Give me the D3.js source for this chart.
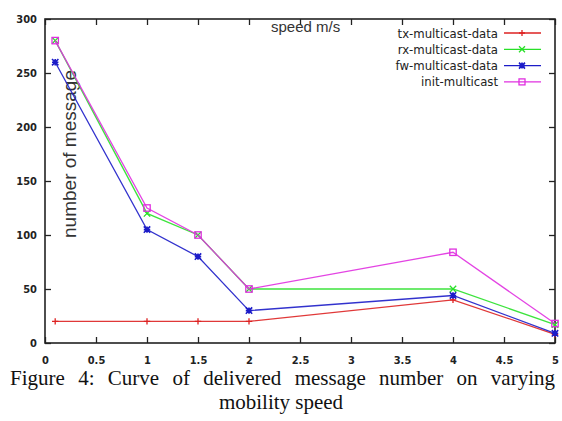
<!DOCTYPE html>
<html>
<head>
<meta charset="utf-8">
<script src="https://cdn.jsdelivr.net/npm/d3@7"></script>
<style>
  html, body { margin: 0; padding: 0; background: #fff; }
  svg { display: block; }
</style>
</head>
<body>
<svg id="chart" width="562" height="421"></svg>
<script>
// Mobility speed (m/s) at which each run was measured
const speeds = [0.1, 1, 1.5, 2, 4, 5];

// Delivered message counts per message type
const txMulticast   = [20, 20, 20, 20, 40, 8];
const rxMulticast   = [280, 120, 100, 50, 50, 17];
const fwMulticast   = [260, 105, 80, 30, 44, 9];
const initMulticast = [280, 125, 100, 50, 84, 18];

const seriesNames = ["tx-multicast-data", "rx-multicast-data", "fw-multicast-data", "init-multicast"];
const seriesValues = [txMulticast, rxMulticast, fwMulticast, initMulticast];
const seriesColors = ["#dd2222", "#28e028", "#1c1cc8", "#e030e0"];
const seriesMarkers = ["plus", "cross", "star", "square"];

const xTicks = [0, 0.5, 1, 1.5, 2, 2.5, 3, 3.5, 4, 4.5, 5];
const yTicks = [0, 50, 100, 150, 200, 250, 300];

const svg = d3.select("#chart");
const plot = { left: 45, right: 555, top: 19, bottom: 343 };

const x = d3.scaleLinear().domain([0, 5]).range([plot.left, plot.right]);
const y = d3.scaleLinear().domain([0, 300]).range([plot.bottom, plot.top]);

const tickFont = "bold 11px 'DejaVu Sans Condensed', 'DejaVu Sans', sans-serif";

// Bottom axis with inward ticks
const xAxis = svg.append("g")
  .attr("transform", `translate(0,${plot.bottom})`)
  .call(d3.axisBottom(x).tickValues(xTicks).tickSize(-6).tickPadding(13)
    .tickFormat(d => d3.format("")(d)));
// Left axis with inward ticks
const yAxis = svg.append("g")
  .attr("transform", `translate(${plot.left},0)`)
  .call(d3.axisLeft(y).tickValues(yTicks).tickSize(-6).tickPadding(8));
// Mirrored ticks on top and right
const xTop = svg.append("g")
  .attr("transform", `translate(0,${plot.top})`)
  .call(d3.axisTop(x).tickValues(xTicks).tickSize(-6).tickFormat(""));
const yRight = svg.append("g")
  .attr("transform", `translate(${plot.right},0)`)
  .call(d3.axisRight(y).tickValues(yTicks).tickSize(-6).tickFormat(""));

[xAxis, yAxis, xTop, yRight].forEach(g => {
  g.select(".domain").remove();
  g.selectAll(".tick line").attr("stroke", "#222").attr("stroke-width", 1.3);
  g.selectAll(".tick text").style("font", tickFont).attr("fill", "#222");
});

// Plot frame
svg.append("rect")
  .attr("x", plot.left).attr("y", plot.top)
  .attr("width", plot.right - plot.left).attr("height", plot.bottom - plot.top)
  .attr("fill", "none").attr("stroke", "#222").attr("stroke-width", 1.6);

// Axis titles
svg.append("text")
  .attr("x", 271).attr("y", 32)
  .style("font", "15px 'Liberation Sans', Arial, sans-serif")
  .attr("fill", "#333")
  .text("speed m/s");

svg.append("text")
  .attr("transform", `translate(76,154) rotate(-90)`)
  .attr("text-anchor", "middle")
  .style("font", "19px 'Liberation Sans', Arial, sans-serif")
  .attr("fill", "#333")
  .text("number of message");

// Marker shapes drawn around a point
function drawMarker(g, kind, cx, cy, color, r) {
  const m = g.append("g").attr("transform", `translate(${cx},${cy})`)
    .attr("stroke", color).attr("stroke-width", 1.3).attr("fill", "none");
  if (kind === "plus") {
    m.append("path").attr("d", `M${-r},0H${r}M0,${-r}V${r}`);
  } else if (kind === "cross") {
    m.append("path").attr("d", `M${-r},${-r}L${r},${r}M${-r},${r}L${r},${-r}`);
  } else if (kind === "star") {
    m.append("path").attr("d", `M${-r},0H${r}M0,${-r}V${r}M${-r},${-r}L${r},${r}M${-r},${r}L${r},${-r}`).attr("stroke-width", 1.6);
  } else if (kind === "square") {
    m.append("rect").attr("x", -r).attr("y", -r).attr("width", 2 * r).attr("height", 2 * r);
  }
}

const line = d3.line().x(d => x(d[0])).y(d => y(d[1]));

seriesValues.forEach((vals, i) => {
  const pts = speeds.map((s, j) => [s, vals[j]]);
  svg.append("path")
    .datum(pts)
    .attr("d", line)
    .attr("fill", "none")
    .attr("stroke", seriesColors[i])
    .attr("stroke-width", 1.3)
    .attr("opacity", 0.9);
  const mg = svg.append("g");
  pts.forEach(p => drawMarker(mg, seriesMarkers[i], x(p[0]), y(p[1]), seriesColors[i], 3.2));
});

// Legend
const legend = svg.append("g");
seriesNames.forEach((name, i) => {
  const ly = 33 + i * 16.3;
  legend.append("text")
    .attr("x", 498).attr("y", ly + 4.5)
    .attr("text-anchor", "end")
    .style("font", "13px 'DejaVu Sans Condensed', 'DejaVu Sans', sans-serif")
    .attr("fill", "#222")
    .text(name);
  legend.append("line")
    .attr("x1", 504).attr("x2", 541).attr("y1", ly).attr("y2", ly)
    .attr("stroke", seriesColors[i]).attr("stroke-width", 1.3);
  drawMarker(legend, seriesMarkers[i], 522, ly, seriesColors[i], 3);
});

// Figure caption: first line justified across the width, second centred
const caption = svg.append("g")
  .style("font", "21px 'Liberation Serif', 'Times New Roman', serif")
  .attr("fill", "#111");
const line1 = caption.append("text")
  .attr("x", 10).attr("y", 385)
  .text("Figure 4: Curve of delivered message number on varying");
const natural = line1.node().getComputedTextLength();
const gaps = line1.text().split(" ").length - 1;
line1.style("word-spacing", `${Math.max(0, (545 - natural) / gaps)}px`);
caption.append("text")
  .attr("x", 281).attr("y", 409).attr("text-anchor", "middle")
  .text("mobility speed");
</script>
</body>
</html>
